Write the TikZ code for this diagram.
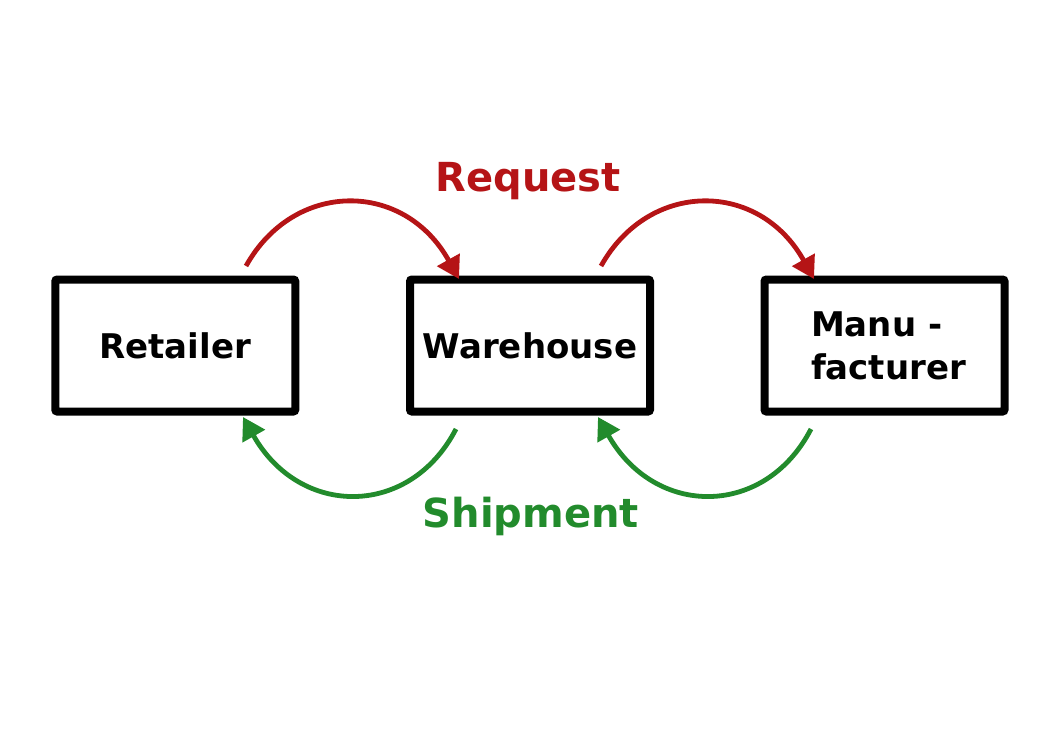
\documentclass[tikz,border=0pt]{standalone}
\usepackage{fontspec}
\setmainfont{DejaVu Sans}
\usetikzlibrary{arrows.meta}
\definecolor{reqred}{RGB}{181,20,22}
\definecolor{shipgreen}{RGB}{34,139,44}
\tikzset{
  box/.style={draw=black, line width=8pt, rounded corners=2pt, minimum width=240pt, minimum height=132pt, inner sep=0pt, font=\bfseries\fontsize{34}{43}\selectfont},
  reqarrow/.style={draw=reqred, line width=4.8pt, -{Triangle[length=22pt,width=25pt]}},
  shiparrow/.style={draw=shipgreen, line width=4.8pt, -{Triangle[length=22pt,width=25pt]}},
  lbl/.style={font=\bfseries\fontsize{40}{48}\selectfont, inner sep=0pt}
}
\begin{document}
\begin{tikzpicture}[x=1pt,y=-1pt]
\useasboundingbox (0,0) rectangle (1053,745);
\node[box] (ret) at (175.25,345.5) {Retailer};
\node[box] (war) at (530,345.5) {Warehouse};
\node[box, align=left] (man) at (884.5,345.5) {\hspace*{8pt}Manu -\\\hspace*{8pt}facturer};
\node[lbl, text=reqred] (req) at (528,181) {Request};
\node[lbl, text=shipgreen] (ship) at (531,516) {Shipment};
\coordinate (r1s) at (246,266);
\coordinate (r1e) at (459,279);
\coordinate (r2s) at (601,266);
\coordinate (r2e) at (814,279);
\coordinate (g1s) at (456,429);
\coordinate (g1e) at (243,417);
\coordinate (g2s) at (811,429);
\coordinate (g2e) at (598,417);
\draw[reqarrow] (r1s) .. controls (294,180) and (404,180) .. (r1e);
\draw[reqarrow] (r2s) .. controls (649,180) and (759,180) .. (r2e);
\draw[shiparrow] (g1s) .. controls (410,518) and (300,518) .. (g1e);
\draw[shiparrow] (g2s) .. controls (765,518) and (655,518) .. (g2e);
\end{tikzpicture}
\end{document}
